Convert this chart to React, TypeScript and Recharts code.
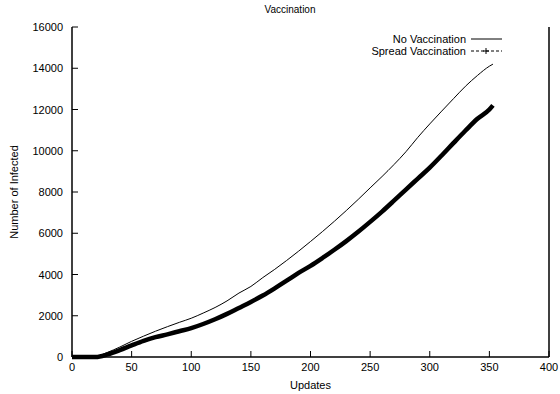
import React from 'react';
import { LineChart, Line, XAxis, YAxis } from 'recharts';

const updates = [0, 10, 20, 30, 40, 50, 60, 70, 80, 90, 100, 110, 120, 130, 140, 150, 160, 170, 180, 190, 200,
  210, 220, 230, 240, 250, 260, 270, 280, 290, 300, 310, 320, 330, 340, 350, 353];

const noVaccination = [0, 0, 30, 230, 480, 760, 1010, 1250, 1470, 1680, 1880, 2130, 2400, 2720, 3100, 3420, 3850,
  4250, 4680, 5130, 5600, 6080, 6580, 7100, 7640, 8200, 8750, 9330, 9950, 10650, 11300, 11920, 12530, 13130,
  13650, 14100, 14200];

const spreadVaccination = [0, 0, 0, 130, 330, 560, 780, 960, 1100, 1250, 1400, 1600, 1830, 2090, 2380, 2670, 2980,
  3330, 3700, 4080, 4420, 4800, 5200, 5620, 6070, 6550, 7050, 7580, 8120, 8650, 9180, 9770, 10380, 10980,
  11550, 12000, 12200];

const xTicks = [0, 50, 100, 150, 200, 250, 300, 350, 400];
const yTicks = [0, 2000, 4000, 6000, 8000, 10000, 12000, 14000, 16000];

const noVacData = updates.map((u, i) => ({ u, v: noVaccination[i] }));
const spreadData = updates.map((u, i) => ({ u, v: spreadVaccination[i] }));

const FONT = '"Liberation Sans", Arial, sans-serif';

const BottomTick = (props: any) => {
  const { x, y, payload } = props;
  return (
    <g>
      <line x1={x} y1={y} x2={x} y2={y - 6} stroke="#000" />
      <text x={x} y={y + 14} textAnchor="middle" fontSize={11} fontFamily={FONT} fill="#000">
        {payload.value}
      </text>
    </g>
  );
};

const TopTick = (props: any) => {
  const { x, y } = props;
  return <line x1={x} y1={y} x2={x} y2={y + 6} stroke="#000" />;
};

const LeftTick = (props: any) => {
  const { x, y, payload } = props;
  return (
    <g>
      <line x1={x} y1={y} x2={x + 6} y2={y} stroke="#000" />
      <text x={x - 9} y={y + 4} textAnchor="end" fontSize={11} fontFamily={FONT} fill="#000">
        {payload.value}
      </text>
    </g>
  );
};

const RightTick = (props: any) => {
  const { x, y } = props;
  return <line x1={x} y1={y} x2={x - 6} y2={y} stroke="#000" />;
};

const KeyBox = () => (
  <svg width={560} height={60} style={{ position: 'absolute', left: 0, top: 0, pointerEvents: 'none' }}>
    <text x={466} y={43} textAnchor="end" fontSize={11} fontFamily={FONT} fill="#000">No Vaccination</text>
    <line x1={471} y1={39} x2={502} y2={39} stroke="#000" />
    <text x={466} y={55} textAnchor="end" fontSize={11} fontFamily={FONT} fill="#000">Spread Vaccination</text>
    <line x1={471} y1={51} x2={502} y2={51} stroke="#000" strokeDasharray="3 2" />
    <line x1={483} y1={51} x2={489} y2={51} stroke="#000" />
    <line x1={486} y1={48} x2={486} y2={54} stroke="#000" />
  </svg>
);

export default function App() {
  return (
    <div style={{ position: 'absolute', left: 0, top: 0, width: 560, height: 394, background: '#fff' }}>
      <div style={{ position: 'absolute', left: 0, top: 4, width: 580, textAlign: 'center', fontFamily: FONT, fontSize: 10 }}>
        Vaccination
      </div>
      <LineChart width={560} height={394} data={noVacData} margin={{ top: 27, right: 0, bottom: 0, left: 0 }}>
        <XAxis
          xAxisId="b"
          dataKey="u"
          type="number"
          domain={[0, 400]}
          ticks={xTicks}
          tick={<BottomTick />}
          tickLine={false}
          tickSize={0}
          tickMargin={0}
          height={37}
          axisLine={{ stroke: '#000', strokeWidth: 1.5 }}
          interval={0}
          label={{ value: 'Updates', position: 'insideBottom', offset: 5, fontSize: 11, fontFamily: FONT, fill: '#000' }}
        />
        <XAxis
          xAxisId="t"
          orientation="top"
          dataKey="u"
          type="number"
          domain={[0, 400]}
          ticks={xTicks}
          tick={<TopTick />}
          tickLine={false}
          tickSize={0}
          tickMargin={0}
          height={0}
          axisLine={{ stroke: '#000', strokeWidth: 1.5 }}
          interval={0}
        />
        <YAxis
          yAxisId="l"
          type="number"
          domain={[0, 16000]}
          ticks={yTicks}
          tick={<LeftTick />}
          tickLine={false}
          tickSize={0}
          tickMargin={0}
          width={72}
          axisLine={{ stroke: '#000', strokeWidth: 1.5 }}
          interval={0}
          label={{ value: 'Number of Infected', angle: -90, position: 'insideLeft', offset: 14, fontSize: 11, fontFamily: FONT, fill: '#000', style: { textAnchor: 'middle' } }}
        />
        <YAxis
          yAxisId="r"
          orientation="right"
          type="number"
          domain={[0, 16000]}
          ticks={yTicks}
          tick={<RightTick />}
          tickLine={false}
          tickSize={0}
          tickMargin={0}
          width={11}
          axisLine={{ stroke: '#000', strokeWidth: 1.5 }}
          interval={0}
        />
        <Line
          xAxisId="b"
          yAxisId="l"
          data={noVacData}
          dataKey="v"
          type="monotone"
          stroke="#000"
          strokeWidth={1}
          dot={false}
          isAnimationActive={false}
        />
        <Line
          xAxisId="b"
          yAxisId="l"
          data={spreadData}
          dataKey="v"
          type="monotone"
          stroke="#000"
          strokeWidth={4.5}
          dot={false}
          isAnimationActive={false}
        />
      </LineChart>
      <KeyBox />
    </div>
  );
}
